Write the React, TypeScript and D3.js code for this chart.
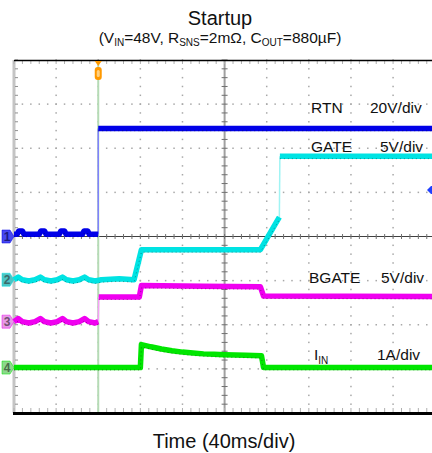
import React from "react";
import * as d3 from "d3";

// time in ms, values in channel units
const rtnTrace: [number, number][] = [
  [0, 1], [3, 1], [4.5, 2.5], [8, 2.5], [9.5, 1], [24, 1], [25.5, 2.5], [29, 2.5], [30.5, 1],
  [43, 1], [44.5, 2.5], [48, 2.5], [49.5, 1], [65, 1], [66.5, 2.5], [70, 2.5], [71.5, 1],
  [80, 1], [80, 49], [400, 49],
];
const gateTrace: [number, number][] = [
  [0, 0], [4, 0.3], [8, 0], [14, -0.15], [20, 0], [25, 0.3], [29, 0], [35, -0.15], [41, 0],
  [46, 0.3], [50, 0], [56, -0.15], [62, 0], [67, 0.3], [71, 0], [77, -0.15], [83, 0],
  [100, 0.1], [114, 0], [121, 3.4], [234, 3.4], [252, 7.1], [252.5, 14], [400, 14],
];
const bgateTrace: [number, number][] = [
  [0, 0], [4, 0.35], [8, 0], [14, -0.15], [20, 0], [25, 0.35], [29, 0], [35, -0.15], [41, 0],
  [46, 0.35], [50, 0], [56, -0.15], [62, 0], [67, 0.35], [71, 0], [77, -0.15], [80, 0],
  [80.5, 2.8], [119, 2.8], [121, 4.1], [180, 4.0], [234, 3.95], [237, 2.9], [400, 2.85],
];
const iinTrace: [number, number][] = [
  [0, 0], [120, 0], [121, 0.52], [130, 0.47], [140, 0.42], [150, 0.38], [160, 0.35],
  [170, 0.33], [180, 0.31], [190, 0.3], [200, 0.29], [220, 0.28], [235, 0.27], [237, 0], [400, 0],
];

const channels = [
  { id: "1", name: "RTN", scale: "20V/div", perDiv: 20, offset: 0, color: "#0000e8", edge: "#8080ff", mark: "#4848f0", label: "#1a1a80", data: rtnTrace },
  { id: "2", name: "GATE", scale: "5V/div", perDiv: 5, offset: -0.98, color: "#00e3e3", edge: "#a0f4f4", mark: "#4cc4c4", label: "#3a6a6a", data: gateTrace },
  { id: "3", name: "BGATE", scale: "5V/div", perDiv: 5, offset: -1.93, color: "#f000f0", edge: "#f6a0f6", mark: "#e69ae6", label: "#705070", data: bgateTrace },
  { id: "4", name: "IIN", scale: "1A/div", perDiv: 1, offset: -2.97, color: "#00e600", edge: "#a0f0a0", mark: "#8cd88c", label: "#4a6a4a", data: iinTrace },
];

const timeDomain = [0, 400];
const divDomain = [-4, 4];
const triggerTime = 80;

const W = 432;
const H = 453;

type Pt = [number, number];

// split a trace into slow runs (drawn thick) and fast edges (drawn thin)
function splitRuns(data: Pt[]) {
  const slow: Pt[][] = [];
  const fast: Pt[][] = [];
  let cur: Pt[] = [data[0]];
  for (let i = 1; i < data.length; i++) {
    const a = data[i - 1];
    const b = data[i];
    if (b[0] - a[0] < 1) {
      if (cur.length > 1) slow.push(cur);
      fast.push([a, b]);
      cur = [b];
    } else {
      cur.push(b);
    }
  }
  if (cur.length > 1) slow.push(cur);
  return { slow, fast };
}

export default function App() {
  const x = d3.scaleLinear().domain(timeDomain).range([14, 435.2]);
  const y = d3.scaleLinear().domain(divDomain).range([413, 60]);
  const font = "'Liberation Sans', Arial, sans-serif";

  const majorX = d3.range(0, 401, 40);
  const majorY = d3.range(-4, 5, 1);
  const minorX = d3.range(0, 401, 8);
  const minorY = d3.range(-4, 4.01, 0.2);

  const dots: React.ReactElement[] = [];
  majorY.forEach((d) => {
    if (d === 0 || d === 4 || d === -4) return;
    minorX.forEach((t, i) => dots.push(<rect key={`h${d}-${i}`} x={x(t) - 0.75} y={y(d) - 0.75} width={1.5} height={1.5} fill="#a8a8a8" />));
  });
  majorX.forEach((t) => {
    if (t === 200 || t === 0) return;
    minorY.forEach((d, i) => dots.push(<rect key={`v${t}-${i}`} x={x(t) - 0.75} y={y(d) - 0.75} width={1.5} height={1.5} fill="#a8a8a8" />));
  });

  const lineFor = (ch: typeof channels[number]) =>
    d3
      .line<Pt>()
      .x((d) => x(d[0]))
      .y((d) => y(ch.offset + d[1] / ch.perDiv));

  const labelY = [113, 152, 283, 360];
  const nameX = [311, 311, 309, 314];
  const scaleX = [370, 380, 381, 377];

  return (
    <div style={{ position: "absolute", left: 0, top: 0 }}>
      <svg width={W} height={H} style={{ display: "block", background: "#fff" }}>
        <text x={220} y={25} textAnchor="middle" fontFamily={font} fontSize={20} fill="#111">Startup</text>
        <text x={220} y={43} textAnchor="middle" fontFamily={font} fontSize={15.5} fill="#111">
          (V<tspan fontSize={10} dy={3}>IN</tspan>
          <tspan dy={-3}>=48V, R</tspan>
          <tspan fontSize={10} dy={3}>SNS</tspan>
          <tspan dy={-3}>=2mΩ, C</tspan>
          <tspan fontSize={10} dy={3}>OUT</tspan>
          <tspan dy={-3}>=880µF)</tspan>
        </text>

        <g>{dots}</g>

        {/* center cross */}
        <line x1={x(200)} x2={x(200)} y1={60} y2={413} stroke="#a0a0a0" strokeWidth={2} />
        {minorY.map((d, i) => (
          <line key={`ct${i}`} x1={x(200) - 3} x2={x(200) + 3} y1={y(d)} y2={y(d)} stroke="#707070" strokeWidth={1} />
        ))}
        <line x1={14} x2={W} y1={y(0)} y2={y(0)} stroke="#404040" strokeWidth={1.2} />
        {minorX.map((t, i) => (
          <line key={`cx${i}`} x1={x(t)} x2={x(t)} y1={y(0) - 2.5} y2={y(0) + 2.5} stroke="#707070" strokeWidth={1} />
        ))}

        {/* borders */}
        <line x1={14} x2={14} y1={60} y2={413} stroke="#c4c4c4" strokeWidth={3} />
        {minorY.map((d, i) => (
          <line key={`lt${i}`} x1={15} x2={18} y1={y(d)} y2={y(d)} stroke="#909090" strokeWidth={1} />
        ))}
        {minorX.map((t, i) => (
          <line key={`tt${i}`} x1={x(t)} x2={x(t)} y1={61} y2={64} stroke="#b0b0b0" strokeWidth={1} />
        ))}
        {minorX.map((t, i) => (
          <line key={`bt${i}`} x1={x(t)} x2={x(t)} y1={408} y2={412} stroke="#b0b0b0" strokeWidth={1} />
        ))}
        <line x1={14} x2={W} y1={60.5} y2={60.5} stroke="#000" strokeWidth={1.5} />
        <line x1={13} x2={W} y1={413.5} y2={413.5} stroke="#000" strokeWidth={3} />

        {/* trigger position */}
        <line x1={x(triggerTime)} x2={x(triggerTime)} y1={61} y2={412} stroke="#b5dbb5" strokeWidth={2} />

        {/* traces */}
        {channels.map((ch) => {
          const ln = lineFor(ch);
          const { slow, fast } = splitRuns(ch.data);
          return (
            <g key={ch.id}>
              {fast.map((seg, i) => (
                <path key={`f${i}`} d={ln(seg) || ""} fill="none" stroke={ch.edge} strokeWidth={1.5} />
              ))}
              {slow.map((seg, i) => (
                <g key={`s${i}`}>
                  <path d={ln(seg) || ""} fill="none" stroke={ch.color} strokeWidth={5.5} strokeLinejoin="round" />
                  <path d={ln(seg) || ""} fill="none" stroke="#000" strokeOpacity={0.35} strokeWidth={1} strokeDasharray="1 3" transform="translate(0,2.5)" />
                </g>
              ))}
            </g>
          );
        })}

        {/* trigger marker */}
        <path d={`M${x(triggerTime) - 3.5},61 L${x(triggerTime) + 3.5},61 L${x(triggerTime)},66 Z`} fill="#ff9900" />
        <rect x={x(triggerTime) - 3.5} y={67} width={7} height={13} rx={3} fill="#ff9900" />
        <rect x={x(triggerTime) - 1.5} y={70} width={3} height={7} rx={1.5} fill="#ffd080" />

        {/* trigger level */}
        <path d={`M427,190 L431,186 L432,186 L432,194 L431,194 Z`} fill="#2040ff" />

        {/* channel markers */}
        {channels.map((ch) => {
          const cy = y(ch.offset);
          return (
            <g key={`m${ch.id}`}>
              <path d={`M2,${cy - 6.5} L10,${cy - 6.5} L14,${cy} L10,${cy + 6.5} L2,${cy + 6.5} Z`} fill={ch.mark} stroke={ch.color} strokeOpacity={0.5} />
              <text x={7} y={cy + 4.5} textAnchor="middle" fontFamily={font} fontSize={12} fontWeight="bold" fill={ch.label}>{ch.id}</text>
            </g>
          );
        })}

        {/* labels */}
        {channels.map((ch, i) => (
          <g key={`l${ch.id}`} fontFamily={font} fontSize={15.5} fill="#111">
            {ch.name === "IIN" ? (
              <text x={nameX[i]} y={labelY[i]}>I<tspan fontSize={10} dy={4}>IN</tspan></text>
            ) : (
              <text x={nameX[i]} y={labelY[i]}>{ch.name}</text>
            )}
            <text x={scaleX[i]} y={labelY[i]}>{ch.scale}</text>
          </g>
        ))}

        <text x={224} y={448} textAnchor="middle" fontFamily={font} fontSize={20} fill="#111">Time (40ms/div)</text>
      </svg>
    </div>
  );
}
